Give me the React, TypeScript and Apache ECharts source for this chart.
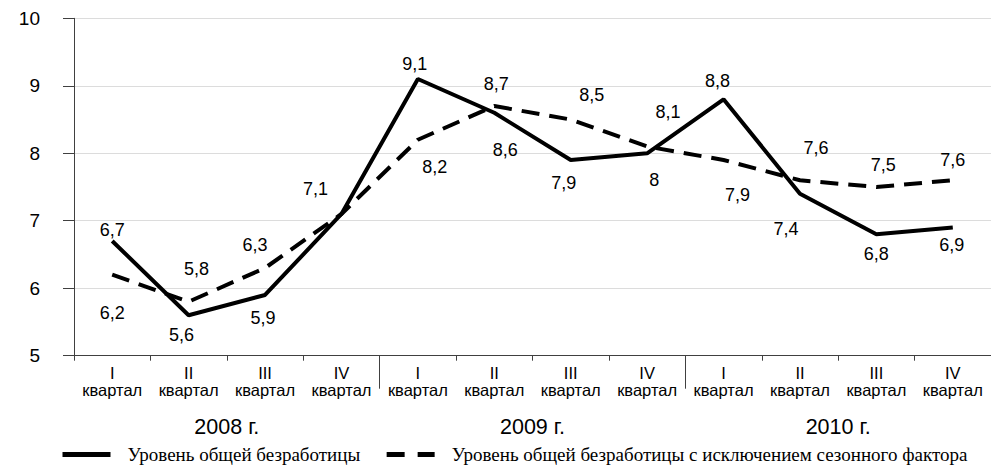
import React, { useEffect, useRef } from "react";
import * as echarts from "echarts";

const quarters = ["I", "II", "III", "IV"];
const years = ["2008 г.", "2009 г.", "2010 г."];
const categories = years.flatMap(() => quarters.map((q) => q + "\nквартал"));
const yTicks = [5, 6, 7, 8, 9, 10];
const seriesNames = [
  "Уровень общей безработицы",
  "Уровень общей безработицы с исключением сезонного фактора",
];
const unemployment = [6.7, 5.6, 5.9, 7.1, 9.1, 8.6, 7.9, 8.0, 8.8, 7.4, 6.8, 6.9];
const seasonallyAdjusted = [6.2, 5.8, 6.3, 7.1, 8.2, 8.7, 8.5, 8.1, 7.9, 7.6, 7.5, 7.6];

// label placement (style only)
const solidLabelOffsets = [
  [0, -11], [-7, 20], [-2, 23], [-26, -25], [-3, -15], [11, 37],
  [-7, 23], [7, 27], [-6, -18], [-14, 35], [0, 20], [-1, 18],
];
const dashedLabelOffsets = [
  [0, 38], [8, -33], [-10, -23], null, [17, 27], [2, -22],
  [21, -25], [21, -35], [14, 35], [16, -32], [7, -22], [0, -20],
];

const SANS = "'Liberation Sans', Arial, sans-serif";
const SERIF = "'Liberation Serif', 'Times New Roman', serif";

const fmt = (v: number) => String(v).replace(".", ",");

function buildData(values: number[], offsets: (number[] | null)[]) {
  return values.map((v, i) => {
    const off = offsets[i];
    return off
      ? { value: v, label: { show: true, offset: off } }
      : { value: v, label: { show: false } };
  });
}

export default function App() {
  const ref = useRef<HTMLDivElement>(null);
  useEffect(() => {
    if (!ref.current) return;
    const chart = echarts.init(ref.current, null, { renderer: "svg" });
    const grid = { left: 74, top: 18.3, width: 925.8, height: 337.4 };
    const labelCommon = {
      show: true,
      position: "inside",
      fontFamily: SANS,
      fontSize: 18,
      color: "#000",
      formatter: (p: any) => fmt(p.value),
    };
    chart.setOption({
      animation: false,
      backgroundColor: "#fff",
      grid,
      legend: {
        left: 60,
        top: 445,
        padding: 0,
        itemWidth: 48,
        itemHeight: 22,
        itemGap: 24,
        itemStyle: { opacity: 0 },
        textStyle: {
          fontFamily: SERIF,
          fontSize: 19,
          color: "#000",
          padding: [0, 0, 0, 12],
        },
        data: [
          { name: seriesNames[0], lineStyle: { width: 5, type: "solid" } },
          { name: seriesNames[1], lineStyle: { width: 5, type: [18, 13] } },
        ],
      },
      xAxis: [
        {
          type: "category",
          data: categories,
          position: "bottom",
          axisLine: { show: true, lineStyle: { color: "#404040", width: 1 } },
          axisTick: { show: true, length: 5, lineStyle: { color: "#404040" } },
          axisLabel: {
            interval: 0,
            margin: 9,
            fontFamily: SANS,
            fontSize: 16.5,
            lineHeight: 17,
            color: "#000",
          },
          splitLine: { show: false },
        },
        {
          type: "category",
          data: categories,
          position: "bottom",
          axisLine: { show: false },
          axisTick: {
            show: true,
            length: 33,
            interval: (i: number) => i === 4 || i === 8,
            lineStyle: { color: "#404040" },
          },
          axisLabel: { show: false },
          splitLine: { show: false },
        },
        {
          type: "category",
          data: years,
          position: "bottom",
          axisLine: { show: false },
          axisTick: { show: false },
          axisLabel: {
            interval: 0,
            margin: 60,
            fontFamily: SANS,
            fontSize: 21.5,
            color: "#000",
          },
          splitLine: { show: false },
        },
      ],
      yAxis: {
        type: "value",
        min: yTicks[0],
        max: yTicks[yTicks.length - 1],
        interval: 1,
        axisLine: { show: true, lineStyle: { color: "#404040", width: 1 } },
        axisTick: { show: true, length: 11, lineStyle: { color: "#404040" } },
        axisLabel: {
          margin: 34,
          fontFamily: SANS,
          fontSize: 19,
          color: "#000",
        },
        splitLine: { show: true, lineStyle: { color: "#dcdcdc", width: 1 } },
      },
      series: [
        {
          name: seriesNames[0],
          type: "line",
          xAxisIndex: 0,
          symbol: "circle",
          symbolSize: 0.01,
          showSymbol: true,
          itemStyle: { color: "#000" },
          lineStyle: { color: "#000", width: 4, type: "solid" },
          label: labelCommon,
          data: buildData(unemployment, solidLabelOffsets),
          z: 3,
        },
        {
          name: seriesNames[1],
          type: "line",
          xAxisIndex: 0,
          symbol: "circle",
          symbolSize: 0.01,
          showSymbol: true,
          itemStyle: { color: "#000" },
          lineStyle: { color: "#000", width: 4, type: [18, 10] },
          label: labelCommon,
          data: buildData(seasonallyAdjusted, dashedLabelOffsets),
          z: 2,
        },
      ],
    });
    return () => chart.dispose();
  }, []);
  return (
    <div
      ref={ref}
      style={{ position: "fixed", left: 0, top: 0, width: 991, height: 470, background: "#fff" }}
    />
  );
}
